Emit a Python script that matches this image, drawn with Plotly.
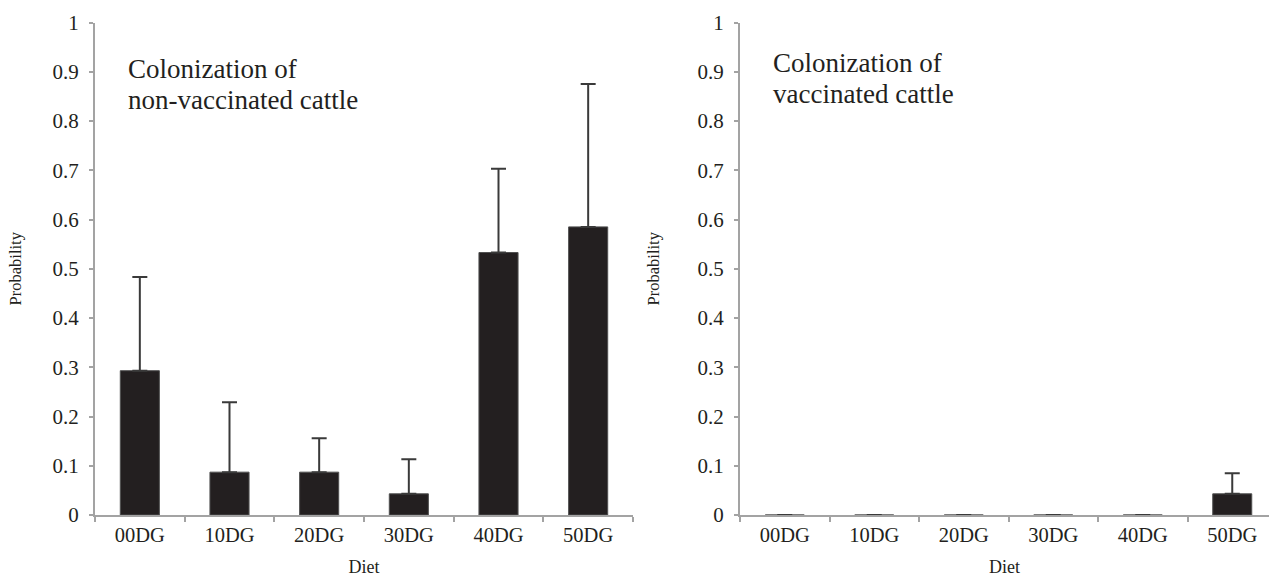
import plotly.graph_objects as go
from plotly.subplots import make_subplots

diets = ["00DG", "10DG", "20DG", "30DG", "40DG", "50DG"]
nonvacc_prob = [0.293, 0.087, 0.087, 0.043, 0.533, 0.585]
nonvacc_upper = [0.483, 0.229, 0.156, 0.113, 0.703, 0.875]
vacc_prob = [0.0, 0.0, 0.0, 0.0, 0.0, 0.043]
vacc_upper = [0.0, 0.0, 0.0, 0.0, 0.0, 0.085]
ytick_vals = [0, 0.1, 0.2, 0.3, 0.4, 0.5, 0.6, 0.7, 0.8, 0.9, 1]
ytick_text = ["0", "0.1", "0.2", "0.3", "0.4", "0.5", "0.6", "0.7", "0.8", "0.9", "1"]

W, H = 1269, 577
FONT = "Liberation Serif, Times New Roman, serif"
TXT = "#231f20"
BAR = "#231f20"
AX = "#a3a3a3"

fig = make_subplots(rows=1, cols=2)

def add(vals, upper, col):
    fig.add_trace(go.Bar(
        x=diets, y=vals,
        marker=dict(color=BAR, line=dict(color="#505050", width=1)),
        error_y=dict(type="data", symmetric=False,
                     array=[u - v for u, v in zip(upper, vals)],
                     arrayminus=[0] * len(vals),
                     color="#3a3a3a", thickness=2, width=7.5),
        showlegend=False, hoverinfo="x+y"), row=1, col=col)

add(nonvacc_prob, nonvacc_upper, 1)
add(vacc_prob, vacc_upper, 2)

y0_px, y1_px = 515, 22.5
ydom = [(H - y0_px) / H, (H - y1_px) / H]

xcommon = dict(type="category", tickson="boundaries", ticks="outside", ticklen=5,
               tickcolor=AX, tickwidth=1.5, showline=True, linecolor=AX, linewidth=2,
               showgrid=False, zeroline=False, automargin=False,
               tickfont=dict(family=FONT, size=20.5, color=TXT),
               title=dict(text="Diet", font=dict(family=FONT, size=18, color=TXT), standoff=18))
ycommon = dict(range=[0, 1], tickvals=ytick_vals, ticktext=ytick_text, ticks="outside",
               ticklen=4, tickcolor=AX, tickwidth=1.5, showline=True, linecolor=AX,
               linewidth=2, showgrid=False, zeroline=False, automargin=False,
               domain=ydom, ticklabelstandoff=6,
               tickfont=dict(family=FONT, size=21, color=TXT))

fig.update_xaxes(**xcommon, domain=[95 / W, 633 / W], range=[-0.5, 5.5], row=1, col=1)
right_end = -0.5 + (W - 740) / 89.5
fig.update_xaxes(**xcommon, domain=[740 / W, 1.0], range=[-0.5, right_end], row=1, col=2)
fig.update_yaxes(**ycommon, row=1, col=1,
                 title=dict(text="Probability", font=dict(family=FONT, size=16.5, color=TXT), standoff=27))
fig.update_yaxes(**ycommon, row=1, col=2,
                 title=dict(text="Probability", font=dict(family=FONT, size=16.5, color=TXT), standoff=34))

ann_font = dict(family=FONT, size=27, color=TXT)
for txt, x, ymid in [("Colonization of", 126, 68.5), ("non-vaccinated cattle", 126, 99.5),
                     ("Colonization of", 771, 63), ("vaccinated cattle", 771, 94)]:
    fig.add_annotation(text=txt, xref="paper", yref="paper", x=x / W, y=1 - ymid / H,
                       xanchor="left", yanchor="middle", showarrow=False, font=ann_font)

fig.update_layout(width=W, height=H, margin=dict(l=0, r=0, t=0, b=0),
                  paper_bgcolor="white", plot_bgcolor="white", bargap=0.564,
                  font=dict(family=FONT, color=TXT))

fig.write_html("out.html", config={"displayModeBar": False},
               post_script="document.body.style.margin='0';document.body.style.overflow='hidden';")
